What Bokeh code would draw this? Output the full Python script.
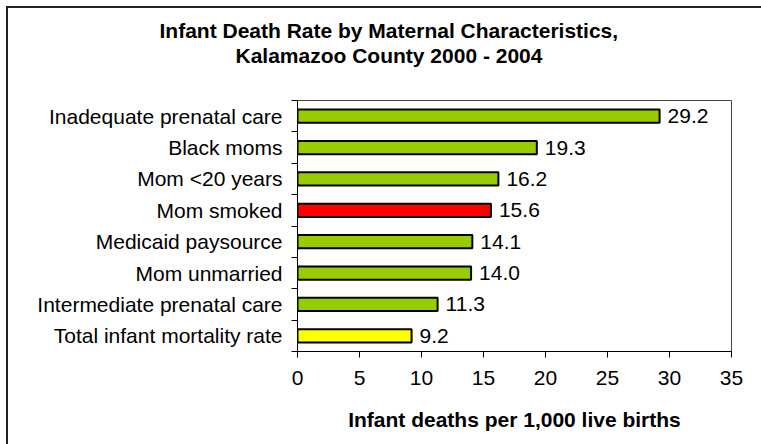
from bokeh.plotting import figure
from bokeh.models import ColumnDataSource, FixedTicker, Title, Range1d
from bokeh.core.properties import value
from bokeh.embed import file_html
from bokeh.resources import INLINE

# ---- data ----
categories = [
    "Total infant mortality rate",
    "Intermediate prenatal care",
    "Mom unmarried",
    "Medicaid paysource",
    "Mom smoked",
    "Mom <20 years",
    "Black moms",
    "Inadequate prenatal care",
]
rates = [9.2, 11.3, 14.0, 14.1, 15.6, 16.2, 19.3, 29.2]
x_ticks = [0, 5, 10, 15, 20, 25, 30, 35]
title_line1 = "Infant Death Rate by Maternal Characteristics,"
title_line2 = "Kalamazoo County 2000 - 2004"
x_title = "Infant deaths per 1,000 live births"

# ---- styles ----
GREEN, RED, YELLOW = "#99CC00", "#FF0000", "#FFFF00"
highlight = {"Mom smoked": RED, "Total infant mortality rate": YELLOW}
bar_colors = [highlight.get(c, GREEN) for c in categories]
FONT = "Liberation Sans"

pos = list(range(len(categories)))
src = ColumnDataSource(dict(
    y=pos, rate=rates, color=bar_colors,
    label=[f"{r:.1f}" for r in rates],
))

p = figure(
    width=755, height=438,
    output_backend="svg", toolbar_location=None,
    x_range=Range1d(x_ticks[0], x_ticks[-1]),
    y_range=Range1d(-0.5, len(categories) - 0.5),
    min_border_left=289, min_border_right=32,
    min_border_top=92, min_border_bottom=95,
)
p.styles = {"margin-left": "6px", "margin-top": "6px",
            "border-left": "2px solid #222222", "border-top": "2px solid #222222"}

p.hbar(y="y", left=0, right="rate", height=0.42, fill_color="color",
       line_color="black", line_width=2, source=src)

p.text(x="rate", y="y", text="label", source=src, x_offset=8,
       text_baseline="middle", text_align="left",
       text_font=value(FONT), text_font_size="21px", text_color="black")

p.xgrid.visible = False
p.ygrid.visible = False
p.outline_line_color = "#444444"
p.outline_line_width = 1

# x axis
xa = p.xaxis[0]
xa.ticker = FixedTicker(ticks=x_ticks)
xa.major_tick_in = 0
xa.major_tick_out = 6
xa.minor_tick_line_color = None
xa.axis_line_color = "black"
xa.major_tick_line_color = "black"
xa.major_label_text_font = FONT
xa.major_label_text_font_size = "21px"
xa.major_label_text_color = "black"
xa.major_label_standoff = 13
xa.axis_label = x_title
xa.axis_label_text_font = FONT
xa.axis_label_text_font_size = "21px"
xa.axis_label_text_font_style = "bold"
xa.axis_label_text_color = "black"
xa.axis_label_standoff = 20

# y axis
ya = p.yaxis[0]
ya.ticker = FixedTicker(ticks=pos, minor_ticks=[i - 0.5 for i in range(len(categories) + 1)])
ya.major_label_overrides = {i: c for i, c in zip(pos, categories)}
ya.major_tick_line_color = None
ya.major_tick_in = 0
ya.major_tick_out = 0
ya.minor_tick_in = 0
ya.minor_tick_out = 6
ya.minor_tick_line_color = "black"
ya.axis_line_color = "black"
ya.major_label_text_font = FONT
ya.major_label_text_font_size = "21px"
ya.major_label_text_color = "black"
ya.major_label_standoff = 9

# title: stacked from the frame outward (spacer, line 2, line 1)
p.add_layout(Title(text=" ", text_font_size="1px", standoff=31), "above")
p.add_layout(Title(text=title_line2, align="left", offset=-62, standoff=0,
                   text_font=FONT, text_font_size="21px", text_font_style="bold",
                   text_color="black"), "above")
p.add_layout(Title(text=title_line1, align="left", offset=-138, standoff=0,
                   text_font=FONT, text_font_size="21px", text_font_style="bold",
                   text_color="black"), "above")

open("out.html", "w").write(file_html(p, INLINE))
